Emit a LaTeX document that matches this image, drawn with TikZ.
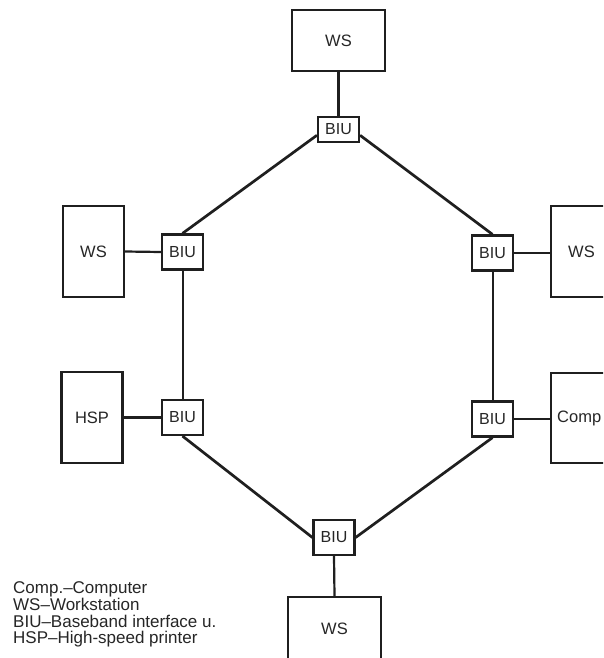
\documentclass[tikz,border=0pt]{standalone}
\usepackage{fontspec}
\setmainfont{Liberation Sans}
\begin{document}
\begin{tikzpicture}[x=1pt,y=-1pt,
  ink/.style={draw=black!88},
  device/.style={ink, line width=2.2pt, fill=white, inner sep=0pt,
    font=\fontsize{16.5}{18}\selectfont, text=black!85},
  biu/.style={ink, line width=2.2pt, fill=white, inner sep=0pt,
    minimum width=41pt, minimum height=35pt,
    font=\fontsize{16}{18}\selectfont, text=black!85},
  tag/.style={inner sep=0pt, font=\fontsize{16.5}{18}\selectfont, text=black!85},
  ring/.style={ink, line width=2.7pt},
  riser/.style={ink, line width=2pt},
  stub/.style={ink, line width=2.2pt},
  legend/.style={anchor=base west, inner sep=0pt,
    font=\fontsize{17}{17}\selectfont, text=black!85}]
\clip (0,0) rectangle (603,658);
\fill[white] (0,0) rectangle (603,658);

% stations
\node[device, minimum width=93pt, minimum height=61pt] (wsT) at (338.5,40.5) {WS};
\node[device, minimum width=61pt, minimum height=91pt] (wsL) at (93.5,251.5) {WS};
\node[device, minimum width=61pt, minimum height=91pt] (wsR) at (581.5,251.5) {WS};
\node[device, minimum width=61pt, minimum height=91pt] (hsp) at (92,417.5) {HSP};
\node[device, minimum width=61pt, minimum height=90pt] (comp) at (581.5,418) {};
\node[tag, anchor=west] (compTag) at (557,418) {Comp};
\node[device, minimum width=93pt, minimum height=64pt] (wsB) at (334.5,629) {WS};

% baseband interface units
\node[biu, minimum height=25pt] (biuT) at (338.5,129.5) {BIU};
\node[biu] (biuL1) at (182.5,252) {BIU};
\node[biu] (biuR1) at (492.5,253) {BIU};
\node[biu] (biuL2) at (182.5,417.5) {BIU};
\node[biu] (biuR2) at (492.5,419) {BIU};
\node[biu] (biuB) at (334,537.5) {BIU};

% ring cable
\draw[ring] (biuT.195) -- (biuL1.north);
\draw[ring] (biuT.-15) -- (biuR1.north);
\draw[riser] (biuL1.south) -- (biuL2.north);
\draw[riser] (biuR1.south) -- (biuR2.north);
\draw[ring] (biuL2.south) -- (biuB.west);
\draw[ring] (biuR2.south) -- (biuB.east);

% drops to the stations
\draw[stub] (wsT.south) -- (biuT.north);
\draw[stub] (wsL.east) -- (biuL1.west);
\draw[stub] (biuR1.east) -- (wsR.west |- biuR1.east);
\draw[stub] (hsp.east) -- (biuL2.west);
\draw[stub] (biuR2.east) -- (comp.west |- biuR2.east);
\draw[stub] (biuB.south) -- (wsB.north);

% key
\node[legend] (leg1) at (13,593) {Comp.–Computer};
\node[legend] (leg2) at (13,610) {WS–Workstation};
\node[legend] (leg3) at (13,627) {BIU–Baseband interface u.};
\node[legend] (leg4) at (13,643.5) {HSP–High-speed printer};
\end{tikzpicture}
\end{document}
